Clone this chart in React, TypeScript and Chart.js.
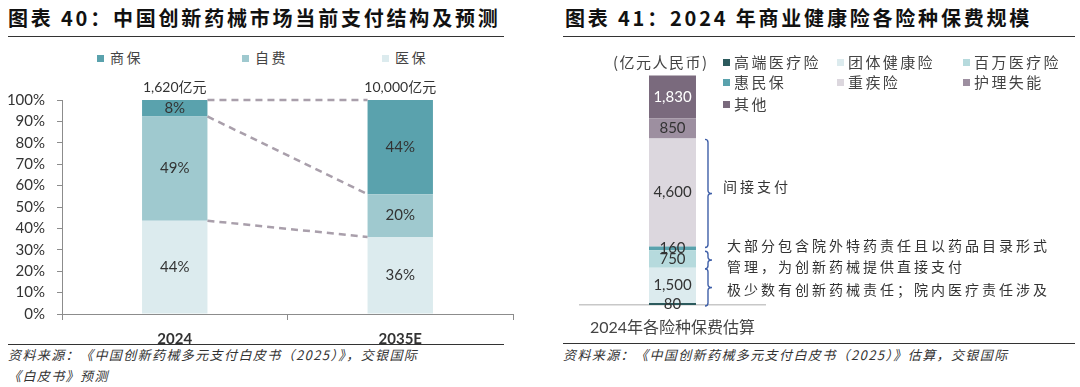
import React, { useEffect, useRef } from "react";
import { Chart, registerables } from "chart.js";
Chart.register(...registerables);

// ---------- Left chart data ----------
const years = ["2024", "2035E"];
const yibao = [43.6, 36];
const zifei = [48.7, 20];
const shangbao = [7.7, 44];
const marketSize = ["1,620亿元", "10,000亿元"];
const leftLegendNames = ["商保", "自费", "医保"];
const leftLegendColors = ["#5aa2ad", "#9fc9cf", "#dcebee"];
const yTickMax = 100;
const yTickStep = 10;

// ---------- Right chart data ----------
const rightCategory = ["2024年各险种保费估算"];
const segNames = ["高端医疗险", "团体健康险", "百万医疗险", "惠民保", "重疾险", "护理失能", "其他"];
const segValues = [80, 1500, 750, 160, 4600, 850, 1830];
const segColors = ["#2c5a5d", "#dcebee", "#b6dadd", "#5aa2ad", "#dcd7de", "#9d8fa0", "#7a6a7d"];
const segLabelColors = ["#333", "#333", "#333", "#333", "#333", "#333", "#ffffff"];
const braceGroups = [[0, 1], [2, 2], [4, 4]];

const NUM_FONT = "Lato, 'Noto Sans CJK SC', sans-serif";
const CJK_FONT = "'Noto Sans CJK SC', sans-serif";

const fmt = (v: number) => v.toLocaleString("en-US");

const leftPlugin = {
  id: "leftDecor",
  afterDatasetsDraw(chart: any) {
    const ctx = chart.ctx;
    const metas = [0, 1, 2].map((i) => chart.getDatasetMeta(i));
    ctx.save();
    ctx.strokeStyle = "#a99fab";
    ctx.lineWidth = 2.5;
    ctx.setLineDash([7, 5]);
    for (let i = 0; i < 3; i++) {
      const a = metas[i].data[0];
      const b = metas[i].data[1];
      ctx.beginPath();
      ctx.moveTo(a.x + a.width / 2, a.y);
      ctx.lineTo(b.x - b.width / 2, b.y);
      ctx.stroke();
    }
    ctx.restore();
    ctx.save();
    ctx.font = "15px " + NUM_FONT;
    ctx.fillStyle = "#333";
    ctx.textAlign = "center";
    ctx.textBaseline = "middle";
    chart.data.datasets.forEach((ds: any, i: number) => {
      metas[i].data.forEach((el: any, j: number) => {
        const v = ds.data[j];
        ctx.fillText(Math.round(v) + "%", el.x, (el.y + el.base) / 2);
      });
    });
    ctx.font = "14px " + NUM_FONT;
    ctx.textBaseline = "alphabetic";
    metas[2].data.forEach((el: any, j: number) => {
      ctx.fillText(marketSize[j], el.x, el.y - 8);
    });
    ctx.restore();
  },
};

const rightPlugin = {
  id: "rightDecor",
  afterDatasetsDraw(chart: any) {
    const ctx = chart.ctx;
    const yScale = chart.scales.y;
    ctx.save();
    ctx.font = "15px " + NUM_FONT;
    ctx.textAlign = "center";
    ctx.textBaseline = "middle";
    chart.data.datasets.forEach((ds: any, i: number) => {
      const el = chart.getDatasetMeta(i).data[0];
      ctx.fillStyle = segLabelColors[i];
      ctx.fillText(fmt(ds.data[0]), el.x, (el.y + el.base) / 2);
    });
    const el0 = chart.getDatasetMeta(0).data[0];
    const x0 = el0.x + el0.width / 2 + 9;
    ctx.strokeStyle = "#3f5fa8";
    ctx.lineWidth = 1.4;
    const cum: number[] = [0];
    segValues.forEach((v, i) => cum.push(cum[i] + v));
    braceGroups.forEach(([a, b]) => {
      const y2 = yScale.getPixelForValue(cum[a]) + 1;
      const y1 = yScale.getPixelForValue(cum[b + 1]) + 1;
      const mid = (y1 + y2) / 2;
      const r = Math.min(3, (y2 - y1) / 4);
      ctx.beginPath();
      ctx.moveTo(x0, y1);
      ctx.quadraticCurveTo(x0 + 3, y1, x0 + 3, y1 + r);
      ctx.lineTo(x0 + 3, mid - r);
      ctx.quadraticCurveTo(x0 + 3, mid, x0 + 7, mid);
      ctx.quadraticCurveTo(x0 + 3, mid, x0 + 3, mid + r);
      ctx.lineTo(x0 + 3, y2 - r);
      ctx.quadraticCurveTo(x0 + 3, y2, x0, y2);
      ctx.stroke();
    });
    ctx.restore();
  },
};

function LeftChart() {
  const ref = useRef<HTMLCanvasElement>(null);
  useEffect(() => {
    const chart = new Chart(ref.current as HTMLCanvasElement, {
      type: "bar",
      data: {
        labels: years,
        datasets: [
          { label: "医保", data: yibao, backgroundColor: leftLegendColors[2] },
          { label: "自费", data: zifei, backgroundColor: leftLegendColors[1] },
          { label: "商保", data: shangbao, backgroundColor: leftLegendColors[0] },
        ],
      },
      options: {
        responsive: false,
        animation: false,
        devicePixelRatio: 1,
        layout: { padding: { top: 60, right: 27, left: 0, bottom: 0 } },
        datasets: { bar: { barPercentage: 0.29, categoryPercentage: 1, borderWidth: 0 } },
        plugins: { legend: { display: false }, tooltip: { enabled: false } },
        scales: {
          x: {
            stacked: true,
            afterFit: (s: any) => { s.height = 31; },
            border: { color: "#8c8c8c", width: 1 },
            grid: { offset: true, drawOnChartArea: false, drawTicks: true, tickLength: 6, color: "#8c8c8c" },
            ticks: { color: "#333", font: { family: NUM_FONT, size: 15, weight: "bold" }, padding: 10 },
          },
          y: {
            stacked: true,
            min: 0,
            max: yTickMax,
            afterFit: (s: any) => { s.width = 62; },
            border: { color: "#8c8c8c", width: 1 },
            grid: { drawOnChartArea: false, drawTicks: true, tickLength: 5, color: "#8c8c8c" },
            ticks: {
              stepSize: yTickStep,
              color: "#333",
              padding: 12,
              font: { family: NUM_FONT, size: 15 },
              callback: (v: any) => v + "%",
            },
          },
        },
      } as any,
      plugins: [leftPlugin],
    });
    return () => chart.destroy();
  }, []);
  return <canvas ref={ref} width={540} height={305} style={{ position: "absolute", left: 0, top: 40 }} />;
}

function RightChart() {
  const ref = useRef<HTMLCanvasElement>(null);
  useEffect(() => {
    const chart = new Chart(ref.current as HTMLCanvasElement, {
      type: "bar",
      data: {
        labels: rightCategory,
        datasets: segNames.map((n, i) => ({ label: n, data: [segValues[i]], backgroundColor: segColors[i] })),
      },
      options: {
        responsive: false,
        animation: false,
        devicePixelRatio: 1,
        layout: { padding: { top: 30, right: 315, left: 20, bottom: 0 } },
        datasets: { bar: { barPercentage: 0.254, categoryPercentage: 1, borderWidth: 0 } },
        plugins: { legend: { display: false }, tooltip: { enabled: false } },
        scales: {
          x: {
            stacked: true,
            afterFit: (s: any) => { s.height = 40; },
            border: { color: "#c8c8c8", width: 1.5 },
            grid: { display: true, drawOnChartArea: false, drawTicks: false },
            ticks: { color: "#444", font: { family: NUM_FONT, size: 16 }, padding: 13 },
          },
          y: { stacked: true, display: false, min: 0, max: 10000 },
        },
      } as any,
      plugins: [rightPlugin],
    });
    return () => chart.destroy();
  }, []);
  return <canvas ref={ref} width={520} height={305} style={{ position: "absolute", left: 560, top: 40 }} />;
}

const abs = (l: number, t: number, extra: any = {}) => ({ position: "absolute" as const, left: l, top: t, whiteSpace: "nowrap" as const, ...extra });

export default function App() {
  const titleStyle = { fontFamily: CJK_FONT, fontSize: 20, fontWeight: 700, letterSpacing: 2.8, color: "#111", lineHeight: "24px" };
  const srcStyle = { fontFamily: CJK_FONT, fontSize: 13, fontStyle: "italic", letterSpacing: 1.4, color: "#333", lineHeight: "18px" };
  const noteStyle = { fontFamily: CJK_FONT, fontSize: 14, letterSpacing: 3, color: "#333", lineHeight: "18px" };
  const legStyle = { fontFamily: CJK_FONT, fontSize: 15, letterSpacing: 2.4, color: "#444", lineHeight: "18px" };
  const rightLegendPos = [
    [723, 62], [837, 62], [963, 62],
    [723, 82], [837, 82], [963, 82],
    [723, 104],
  ];
  const leftLegendPos = [97, 242, 382];
  return (
    <div style={{ position: "fixed", left: 0, top: 0, width: 1080, height: 387, background: "#fff", overflow: "hidden" }}>
      <div style={abs(8, 6, titleStyle)}>图表 40：中国创新药械市场当前支付结构及预测</div>
      <div style={abs(565, 6, titleStyle)}>图表 41：2024 年商业健康险各险种保费规模</div>
      <div style={abs(8, 36, { width: 496, height: 0, borderTop: "1.5px solid #333" })} />
      <div style={abs(563, 36, { width: 512, height: 0, borderTop: "1.5px solid #333" })} />

      {leftLegendNames.map((n, i) => (
        <div key={n} style={abs(leftLegendPos[i], 48, { ...legStyle, fontSize: 14, letterSpacing: 2.5 })}>
          <span style={{ display: "inline-block", width: 7, height: 7, background: leftLegendColors[i], marginRight: 6, verticalAlign: "middle", position: "relative", top: -1 }} />
          {n}
        </div>
      ))}

      <LeftChart />
      <RightChart />

      <div style={abs(613, 53, { ...legStyle, letterSpacing: 1.5 })}>(亿元人民币)</div>
      {segNames.map((n, i) => (
        <div key={n} style={abs(rightLegendPos[i][0], rightLegendPos[i][1] - 9, legStyle)}>
          <span style={{ display: "inline-block", width: 7, height: 7, background: segColors[i], marginRight: 4, verticalAlign: "middle", position: "relative", top: -1 }} />
          {n}
        </div>
      ))}

      <div style={abs(723, 177, noteStyle)}>间接支付</div>
      <div style={abs(727, 236, noteStyle)}>大部分包含院外特药责任且以药品目录形式</div>
      <div style={abs(727, 257, noteStyle)}>管理，为创新药械提供直接支付</div>
      <div style={abs(727, 280, noteStyle)}>极少数有创新药械责任；院内医疗责任涉及</div>

      <div style={abs(8, 344, { width: 496, height: 0, borderTop: "1.5px solid #333" })} />
      <div style={abs(563, 343, { width: 512, height: 0, borderTop: "1.5px solid #333" })} />
      <div style={abs(8, 346, srcStyle)}>资料来源：《中国创新药械多元支付白皮书（2025）》，交银国际</div>
      <div style={abs(8, 367, srcStyle)}>《白皮书》预测</div>
      <div style={abs(563, 346, srcStyle)}>资料来源：《中国创新药械多元支付白皮书（2025）》估算，交银国际</div>
    </div>
  );
}
